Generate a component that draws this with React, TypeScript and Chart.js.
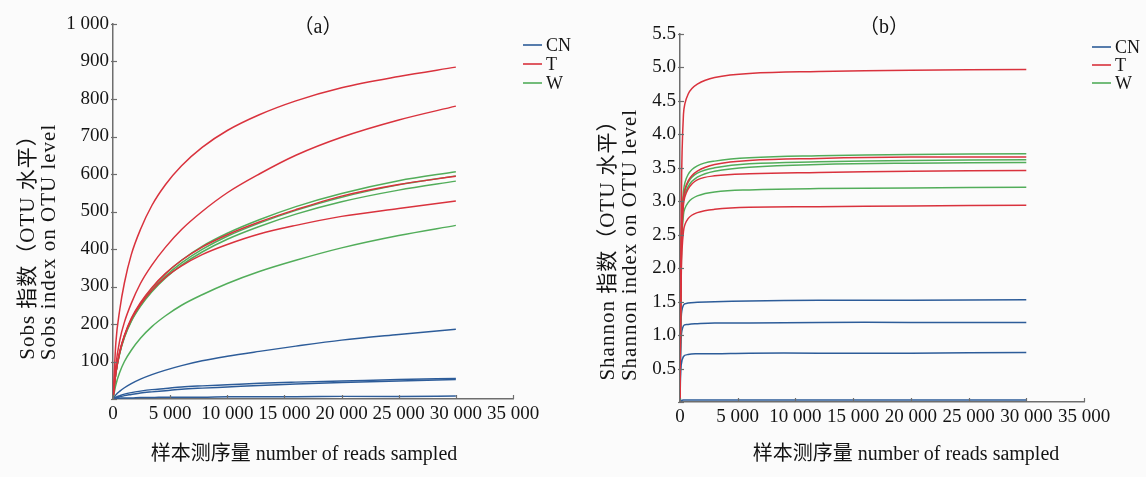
import { useEffect, useRef } from "react";
import { Chart, registerables } from "chart.js";

Chart.register(...registerables);

// ---- data ----
const groups = ["CN", "T", "W"];
const groupColors: Record<string, string> = {
  CN: "#2d5c99",
  T: "#d9323d",
  W: "#52ad5a",
};

// Sobs rarefaction (reads sampled -> observed OTUs)
const sobsReads = [0, 250, 600, 1000, 1600, 2400, 3400, 4600, 6000, 7800, 10000, 12800, 16000, 20000, 25000, 30000];
const sobsT = [
  [0, 150, 240, 310, 385, 452, 516, 572, 622, 671, 716, 758, 795, 830, 860, 885],
  [0, 90, 158, 205, 255, 308, 357, 405, 452, 500, 550, 600, 650, 698, 744, 781],
  [0, 70, 128, 170, 215, 257, 297, 335, 370, 405, 438, 472, 505, 541, 572, 594],
  [0, 70, 126, 168, 212, 252, 290, 325, 355, 385, 412, 440, 463, 487, 508, 528],
];
const sobsW = [
  [0, 70, 126, 168, 212, 254, 295, 334, 370, 407, 442, 478, 513, 548, 582, 606],
  [0, 69, 124, 166, 209, 250, 290, 328, 363, 399, 434, 469, 503, 538, 571, 595],
  [0, 68, 123, 164, 207, 247, 286, 323, 357, 392, 426, 460, 493, 526, 557, 581],
  [0, 38, 72, 100, 130, 162, 193, 222, 250, 278, 308, 340, 370, 403, 436, 463],
];
const sobsCN = [
  [0, 11, 21, 30, 41, 53, 65, 77, 89, 102, 114, 127, 141, 157, 172, 186],
  [0, 5, 9, 13, 17, 21, 25, 28, 32, 35, 38, 42, 45, 48, 52, 55],
  [0, 3, 6, 9, 12, 16, 19, 22, 26, 29, 32, 36, 40, 44, 48, 52],
  [0, 1, 2, 3, 3, 4, 4, 5, 5, 5, 6, 6, 6, 7, 7, 8],
];

// Shannon rarefaction (reads sampled -> Shannon index)
const shannonReads = [0, 100, 300, 700, 1500, 3000, 6000, 12000, 20000, 30000];
const shannonT = [
  [0, 2.6, 4.3, 4.6, 4.75, 4.85, 4.91, 4.94, 4.96, 4.97],
  [0, 2.2, 3.05, 3.3, 3.45, 3.55, 3.61, 3.64, 3.66, 3.66],
  [0, 2.0, 2.95, 3.18, 3.32, 3.38, 3.41, 3.43, 3.45, 3.46],
  [0, 1.8, 2.55, 2.74, 2.83, 2.88, 2.91, 2.92, 2.93, 2.94],
];
const shannonW = [
  [0, 2.3, 3.15, 3.4, 3.53, 3.6, 3.65, 3.68, 3.7, 3.71],
  [0, 2.2, 3.05, 3.28, 3.42, 3.5, 3.56, 3.59, 3.61, 3.62],
  [0, 2.2, 3.0, 3.22, 3.36, 3.45, 3.51, 3.55, 3.57, 3.58],
  [0, 1.9, 2.8, 2.98, 3.08, 3.14, 3.17, 3.19, 3.2, 3.21],
];
const shannonCN = [
  [0, 1.25, 1.45, 1.48, 1.49, 1.5, 1.51, 1.52, 1.52, 1.53],
  [0, 0.95, 1.14, 1.16, 1.17, 1.18, 1.18, 1.19, 1.19, 1.19],
  [0, 0.55, 0.68, 0.71, 0.72, 0.72, 0.73, 0.73, 0.73, 0.74],
  [0, 0.02, 0.03, 0.03, 0.03, 0.03, 0.03, 0.03, 0.03, 0.03],
];

const xTickStep = 5000;
const xMax = 35000;

const SERIF = "'Liberation Serif', 'Noto Sans CJK SC', serif";
const TEXT = "#141414";
const AXIS = "#6e6e6e";

const groupedNumber = (v: number) =>
  String(v).replace(/\B(?=(\d{3})+(?!\d))/g, " ");

type PanelSpec = {
  tag: string;
  reads: number[];
  series: Record<string, number[][]>;
  monotone: boolean;
  yMax: number;
  yStep: number;
  yFormat: (v: number) => string;
  yTitle: [string, string];
  xTitle: string;
  pad: { left: number; right: number; top: number };
  xAxisHeight: number;
  tagPos: [number, number];
  yTitlePos: [number, number, number];
  xTitlePos: [number, number];
  legendPos: [number, number, number];
};

const panels: PanelSpec[] = [
  {
    tag: "（a）",
    reads: sobsReads,
    series: { T: sobsT, W: sobsW, CN: sobsCN },
    monotone: true,
    yMax: 1000,
    yStep: 100,
    yFormat: (v) => (v === 0 ? "" : groupedNumber(v)),
    yTitle: ["Sobs 指数（OTU 水平）", "Sobs index on OTU level"],
    xTitle: "样本测序量 number of reads sampled",
    pad: { left: 53, right: 60, top: 24 },
    xAxisHeight: 78,
    tagPos: [318, 28],
    yTitlePos: [28, 49, 242],
    xTitlePos: [304, 455],
    legendPos: [523, 45, 19],
  },
  {
    tag: "（b）",
    reads: shannonReads,
    series: { T: shannonT, W: shannonW, CN: shannonCN },
    monotone: false,
    yMax: 5.5,
    yStep: 0.5,
    yFormat: (v) => (v === 0 ? "" : v.toFixed(1)),
    yTitle: ["Shannon 指数（OTU 水平）", "Shannon index on OTU level"],
    xTitle: "样本测序量 number of reads sampled",
    pad: { left: 47, right: 62, top: 34 },
    xAxisHeight: 75,
    tagPos: [311, 28],
    yTitlePos: [35, 57, 245],
    xTitlePos: [333, 455],
    legendPos: [519, 47, 18],
  },
];

// Inward tick marks, panel tag, axis titles and legend
const decorPlugin = {
  id: "decor",
  afterDraw(chart: any, _args: any, opts: any) {
    const { ctx, chartArea, scales } = chart;
    const spec: PanelSpec = opts.spec;
    ctx.save();
    ctx.strokeStyle = AXIS;
    ctx.lineWidth = 1.2;
    scales.x.ticks.forEach((t: any) => {
      const p = Math.round(scales.x.getPixelForValue(t.value)) + 0.5;
      ctx.beginPath();
      ctx.moveTo(p, chartArea.bottom);
      ctx.lineTo(p, chartArea.bottom - 4);
      ctx.stroke();
    });
    scales.y.ticks.forEach((t: any) => {
      const p = Math.round(scales.y.getPixelForValue(t.value)) + 0.5;
      ctx.beginPath();
      ctx.moveTo(chartArea.left - 2, p);
      ctx.lineTo(chartArea.left + 4, p);
      ctx.stroke();
    });

    ctx.fillStyle = TEXT;
    ctx.textAlign = "center";
    ctx.textBaseline = "middle";
    ctx.font = `20px ${SERIF}`;
    ctx.fillText(spec.tag, spec.tagPos[0], spec.tagPos[1]);
    ctx.fillText(spec.xTitle, spec.xTitlePos[0], spec.xTitlePos[1]);

    const [x1, x2, yc] = spec.yTitlePos;
    ctx.font = `21px ${SERIF}`;
    (ctx as any).letterSpacing = "1px";
    spec.yTitle.forEach((line, i) => {
      ctx.save();
      ctx.translate(i === 0 ? x1 : x2, yc);
      ctx.rotate(-Math.PI / 2);
      ctx.fillText(line, 0, 0);
      ctx.restore();
    });
    (ctx as any).letterSpacing = "0px";

    const [lx, ly, gap] = spec.legendPos;
    ctx.textAlign = "left";
    ctx.font = `18px ${SERIF}`;
    groups.forEach((g, i) => {
      const y = ly + i * gap;
      ctx.strokeStyle = groupColors[g];
      ctx.lineWidth = 1.6;
      ctx.beginPath();
      ctx.moveTo(lx, y);
      ctx.lineTo(lx + 19, y);
      ctx.stroke();
      ctx.fillStyle = TEXT;
      ctx.fillText(g, lx + 23, y + 1);
    });
    ctx.restore();
  },
};

function buildConfig(spec: PanelSpec): any {
  const datasets: any[] = [];
  ["T", "W", "CN"].forEach((g) => {
    spec.series[g].forEach((vals, i) => {
      datasets.push({
        label: `${g}${i + 1}`,
        data: vals.map((v, k) => ({ x: spec.reads[k], y: v })),
        borderColor: groupColors[g],
        borderWidth: 1.5,
        pointRadius: 0,
        fill: false,
        ...(spec.monotone ? { cubicInterpolationMode: "monotone" } : { tension: 0.4 }),
      });
    });
  });
  return {
    type: "line",
    data: { datasets },
    options: {
      responsive: false,
      animation: false,
      devicePixelRatio: 1,
      layout: { padding: { left: spec.pad.left, right: spec.pad.right, top: spec.pad.top, bottom: 0 } },
      plugins: {
        legend: { display: false },
        tooltip: { enabled: false },
        decor: { spec },
      },
      scales: {
        x: {
          type: "linear",
          min: 0,
          max: xMax,
          afterFit: (s: any) => {
            s.height = spec.xAxisHeight;
          },
          grid: { display: false, drawTicks: false },
          border: { display: true, color: AXIS, width: 1.5 },
          ticks: {
            stepSize: xTickStep,
            padding: 4,
            maxRotation: 0,
            color: TEXT,
            font: { family: SERIF, size: 19 },
            callback: (v: number) => groupedNumber(v),
          },
        },
        y: {
          type: "linear",
          min: 0,
          max: spec.yMax,
          afterFit: (s: any) => {
            s.width = 60;
          },
          grid: { display: false, drawTicks: false },
          border: { display: true, color: AXIS, width: 1.5 },
          ticks: {
            stepSize: spec.yStep,
            padding: 4,
            color: TEXT,
            font: { family: SERIF, size: 19 },
            callback: (v: number) => spec.yFormat(v),
          },
        },
      },
    },
    plugins: [decorPlugin],
  };
}

function RarefactionPanel({ spec }: { spec: PanelSpec }) {
  const ref = useRef<HTMLCanvasElement>(null);
  useEffect(() => {
    const chart = new Chart(ref.current as HTMLCanvasElement, buildConfig(spec));
    return () => chart.destroy();
  }, [spec]);
  return <canvas ref={ref} width={573} height={477} style={{ display: "block" }} />;
}

export default function App() {
  return (
    <div
      style={{
        position: "fixed",
        left: 0,
        top: 0,
        width: 1146,
        height: 477,
        display: "flex",
        background: "#fbfbfb",
      }}
    >
      {panels.map((p) => (
        <RarefactionPanel key={p.tag} spec={p} />
      ))}
    </div>
  );
}
